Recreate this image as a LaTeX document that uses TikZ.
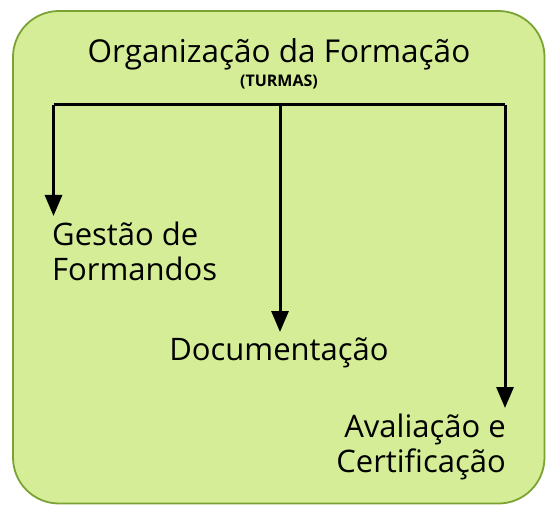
\documentclass[tikz,border=0pt]{standalone}
\usepackage{fontspec}
\setmainfont{Open Sans}
\usepackage{tikz}
\usetikzlibrary{arrows.meta}
\definecolor{leaf}{RGB}{212,237,150}
\definecolor{leafline}{RGB}{122,163,52}

\begin{document}
\begin{tikzpicture}[x=1pt, y=-1pt, every node/.style={inner sep=0pt, outer ysep=6pt, font=\fontsize{31}{35}\selectfont}, link/.style={line width=3pt, -{Triangle[length=21pt,width=17pt]}}]
\useasboundingbox (0,0) rectangle (546,505);
\draw[fill=leaf, draw=leafline, line width=1.8pt, rounded corners=46pt] (13,11) rectangle (544.5,503.5);
\node[anchor=base] (title) at (279,63) {\fontsize{31.5}{36}\selectfont Organização da Formação};
\node[anchor=base] (turmas) at (279,87) {\fontsize{16}{18}\selectfont\bfseries (TURMAS)};
\coordinate (l) at (53.5,105);
\coordinate (m) at (280,105);
\coordinate (r) at (505,105);
\node[anchor=north west, align=left] (gestao) at (52,216) {Gestão de\\Formandos};
\node[anchor=north] (doc) at (279,332) {Documentação};
\node[anchor=north east, align=right] (aval) at (506,408) {Avaliação e\\Certificação};
\draw[line width=3pt] (l) -- (r);
\draw[link] (l) -- (l |- gestao.north);
\draw[link] (m) -- (m |- doc.north);
\draw[link] (r) -- (r |- aval.north);
\end{tikzpicture}
\end{document}
